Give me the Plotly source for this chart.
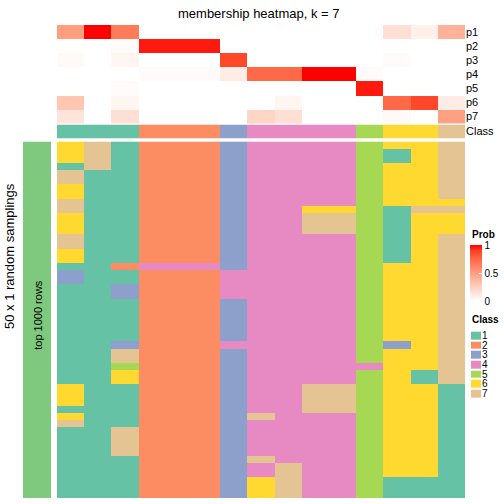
import plotly.graph_objects as go

# ---------------- data ----------------
col_classes = [1, 1, 1, 2, 2, 2, 3, 4, 4, 4, 4, 5, 6, 6, 7]
prob_labels = ["p1", "p2", "p3", "p4", "p5", "p6", "p7"]
p1 = [0.50, 1.00, 0.66, 0, 0, 0, 0, 0, 0, 0, 0, 0, 0.17, 0.08, 0.40]
p2 = [0, 0, 0.02, 0.96, 0.96, 0.96, 0, 0, 0, 0, 0, 0, 0, 0, 0]
p3 = [0.03, 0, 0.05, 0, 0, 0, 0.87, 0, 0, 0, 0, 0, 0.02, 0, 0]
p4 = [0, 0, 0, 0.02, 0.02, 0.02, 0.10, 0.74, 0.74, 1.00, 1.00, 0.02, 0, 0, 0]
p5 = [0, 0, 0.02, 0, 0, 0, 0, 0, 0, 0, 0, 0.96, 0, 0, 0]
p6 = [0.30, 0, 0.05, 0, 0, 0, 0, 0, 0.05, 0, 0, 0, 0.74, 0.87, 0.10]
p7 = [0.14, 0, 0.17, 0, 0, 0, 0, 0.22, 0.17, 0, 0, 0, 0.03, 0, 0.49]

# 50 random samplings (rows) x 15 columns, class labels
sampling_rows = [
    "671222344445667", "671222344445167", "671222344445167", "171222344445667",
    "711222344445667", "711222344445667", "611222344445667", "611222344445667",
    "711222344445666", "711222344665177", "611222344775166", "611222344775166",
    "611222344775166", "711222344445167", "711222344445167", "611222344445167",
    "611222344445167", "112444344445667", "311222444445667", "311222444445667",
    "113222444445667", "113222444445667", "111222344445667", "111222344445667",
    "111222344445667", "111222344445667", "111222344445667", "111222344445667",
    "113222444445367", "117222344445667", "117222344445667", "115222344444667",
    "116222344445617", "116222344445617", "611222344775661", "611222344775661",
    "611222344775661", "111222344775661", "611222374445661", "711222344445661",
    "117222344445661", "117222344445661", "117222344445661", "117222344445661",
    "111222374445661", "111222347445661", "111222347445661", "111222367445111",
    "111222367445111", "111222367445111",
]
class_names = ["1", "2", "3", "4", "5", "6", "7"]
class_colors = ["#66C2A5", "#FC8D62", "#8DA0CB", "#E78AC3", "#A6D854", "#FFD92F", "#E5C494"]
prob_ticks = [0, 0.5, 1]
prob_tick_text = ["0", "0.5", "1"]

# ---------------- helpers ----------------
W = H = 504
def px_x(v):
    return v / W
def px_y(v):
    return 1 - v / H

def lab_ramp(n=11):
    # white -> red interpolated in CIE Lab
    def srgb_to_lin(c):
        c = c / 255
        return c / 12.92 if c <= 0.04045 else ((c + 0.055) / 1.055) ** 2.4
    def lin_to_srgb(c):
        c = max(0.0, min(1.0, c))
        v = 12.92 * c if c <= 0.0031308 else 1.055 * c ** (1 / 2.4) - 0.055
        return round(v * 255)
    def to_lab(rgb):
        r, g, b = [srgb_to_lin(c) for c in rgb]
        X = (0.4124 * r + 0.3576 * g + 0.1805 * b) / 0.95047
        Y = (0.2126 * r + 0.7152 * g + 0.0722 * b)
        Z = (0.0193 * r + 0.1192 * g + 0.9505 * b) / 1.08883
        f = lambda t: t ** (1 / 3) if t > 0.008856 else 7.787 * t + 16 / 116
        fx, fy, fz = f(X), f(Y), f(Z)
        return 116 * fy - 16, 500 * (fx - fy), 200 * (fy - fz)
    def from_lab(L, a, b):
        fy = (L + 16) / 116
        fx = fy + a / 500
        fz = fy - b / 200
        inv = lambda t: t ** 3 if t ** 3 > 0.008856 else (t - 16 / 116) / 7.787
        X, Y, Z = 0.95047 * inv(fx), inv(fy), 1.08883 * inv(fz)
        r = 3.2406 * X - 1.5372 * Y - 0.4986 * Z
        g = -0.9689 * X + 1.8758 * Y + 0.0415 * Z
        bb = 0.0557 * X - 0.2040 * Y + 1.0570 * Z
        return lin_to_srgb(r), lin_to_srgb(g), lin_to_srgb(bb)
    w = to_lab((255, 255, 255))
    rd = to_lab((255, 0, 0))
    out = []
    for i in range(n):
        t = i / (n - 1)
        L, a, b = [w[k] + (rd[k] - w[k]) * t for k in range(3)]
        r, g, bb = from_lab(L, a, b)
        out.append([t, f"rgb({r},{g},{bb})"])
    return out

def discrete_scale(colors):
    n = len(colors)
    sc = []
    for i, c in enumerate(colors):
        sc.append([i / n, c])
        sc.append([(i + 1) / n, c])
    return sc

FONT = "Liberation Sans, Arial, Helvetica, sans-serif"
prob_scale = lab_ramp()
class_scale = discrete_scale(class_colors)

prob_z = [p1, p2, p3, p4, p5, p6, p7]
main_z = [[int(ch) for ch in row] for row in sampling_rows]
ncol = len(col_classes)
cols = list(range(ncol))

fig = go.Figure()

# probability heatmap
fig.add_trace(go.Heatmap(
    z=prob_z, x=cols, y=prob_labels, xaxis="x", yaxis="y",
    colorscale=prob_scale, zmin=0, zmax=1, hoverinfo="skip",
    colorbar=dict(
        x=px_x(470), xanchor="left", xpad=0,
        y=px_y(245), yanchor="top", ypad=0,
        len=56, lenmode="pixels", thickness=12, thicknessmode="pixels",
        outlinewidth=0, borderwidth=0,
        tickvals=prob_ticks, ticktext=prob_tick_text,
        ticks="inside", ticklen=3, tickcolor="white",
        tickfont=dict(family=FONT, size=10, color="black"),
    ),
))

# class annotation row
fig.add_trace(go.Heatmap(
    z=[col_classes], x=cols, y=["Class"], xaxis="x", yaxis="y2",
    colorscale=class_scale, zmin=0.5, zmax=7.5, showscale=False, hoverinfo="skip",
))

# main sampling heatmap
fig.add_trace(go.Heatmap(
    z=main_z, x=cols, y=list(range(len(sampling_rows))), xaxis="x", yaxis="y3",
    colorscale=class_scale, zmin=0.5, zmax=7.5, showscale=False, hoverinfo="skip",
))

# left row-split bar
fig.add_trace(go.Heatmap(
    z=[[1]], x=[0], y=[0], xaxis="x2", yaxis="y4",
    colorscale=[[0, "#7FC97F"], [1, "#7FC97F"]], showscale=False, hoverinfo="skip",
))

# class legend swatches
fig.add_trace(go.Heatmap(
    z=[[i + 1] for i in range(len(class_names))], x=[0], y=class_names,
    xaxis="x3", yaxis="y5", ygap=2,
    colorscale=class_scale, zmin=0.5, zmax=7.5, showscale=False, hoverinfo="skip",
))

hidden = dict(showgrid=False, zeroline=False, showticklabels=False, ticks="", showline=False)

fig.update_layout(
    width=W, height=H, autosize=False,
    margin=dict(l=0, r=0, t=0, b=0),
    paper_bgcolor="white", plot_bgcolor="white",
    font=dict(family=FONT, color="black"),
    xaxis=dict(domain=[px_x(57), px_x(465)], range=[-0.5, ncol - 0.5], anchor="y3", **hidden),
    yaxis=dict(domain=[px_y(123), px_y(24)], anchor="x", autorange="reversed", side="right",
               tickmode="array", tickvals=prob_labels, ticktext=prob_labels,
               showgrid=False, zeroline=False, ticks="", tickfont=dict(family=FONT, size=11)),
    yaxis2=dict(domain=[px_y(138), px_y(124)], anchor="x", side="right",
                showgrid=False, zeroline=False, ticks="", tickfont=dict(family=FONT, size=11)),
    yaxis3=dict(domain=[px_y(499), px_y(141)], anchor="x", range=[len(sampling_rows) - 0.5, -0.5], **hidden),
    xaxis2=dict(domain=[px_x(23), px_x(51)], anchor="y4", **hidden),
    yaxis4=dict(domain=[px_y(499), px_y(141)], anchor="x2", **hidden),
    xaxis3=dict(domain=[px_x(471), px_x(481)], anchor="y5", **hidden),
    yaxis5=dict(domain=[px_y(399), px_y(331)], anchor="x3", autorange="reversed", side="right",
                tickmode="array", tickvals=class_names, ticktext=class_names,
                showgrid=False, zeroline=False, ticks="", tickfont=dict(family=FONT, size=10)),
    annotations=[
        dict(text="membership heatmap, k = 7", x=px_x(259), y=px_y(12.5), xref="paper", yref="paper",
             xanchor="center", yanchor="middle", showarrow=False, font=dict(family=FONT, size=13)),
        dict(text="50 x 1 random samplings", x=px_x(10), y=px_y(256), xref="paper", yref="paper",
             xanchor="center", yanchor="middle", textangle=-90, showarrow=False,
             font=dict(family=FONT, size=13)),
        dict(text="top 1000 rows", x=px_x(38), y=px_y(315), xref="paper", yref="paper",
             xanchor="center", yanchor="middle", textangle=-90, showarrow=False,
             font=dict(family=FONT, size=11)),
        dict(text="<b>Prob</b>", x=px_x(470), y=px_y(234), xref="paper", yref="paper",
             xanchor="left", yanchor="middle", showarrow=False, font=dict(family=FONT, size=10)),
        dict(text="<b>Class</b>", x=px_x(470), y=px_y(320), xref="paper", yref="paper",
             xanchor="left", yanchor="middle", showarrow=False, font=dict(family=FONT, size=10)),
    ],
)

fig.write_html("out.html", config={"displayModeBar": False, "staticPlot": True},
               post_script="document.body.style.margin='0px';")
